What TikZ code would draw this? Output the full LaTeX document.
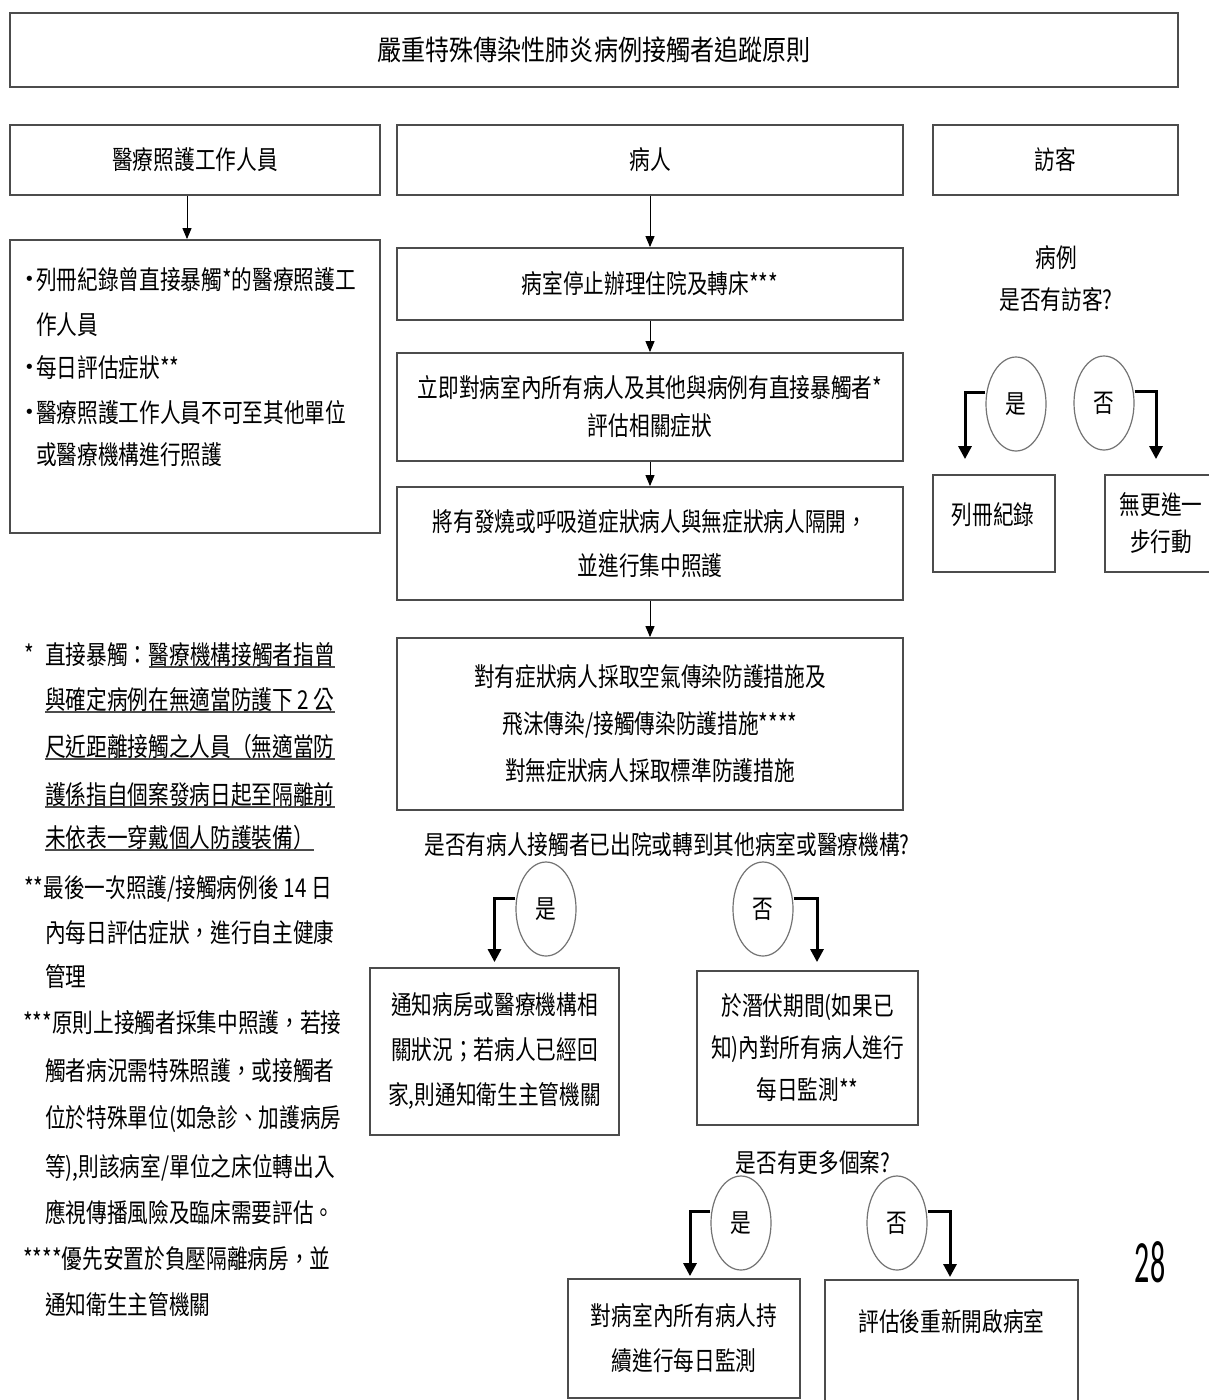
\documentclass[tikz,border=0pt]{standalone}
\usepackage{fontspec}
\usepackage{graphicx}
\setmainfont[FakeStretch=0.795]{Noto Sans CJK TC}
\newfontfamily\titlefont[FakeStretch=0.86]{Noto Sans CJK TC}
\newfontfamily\numfont[FakeStretch=0.5]{Carlito}
\newfontfamily\dotfont{DejaVu Sans}
\usetikzlibrary{arrows.meta,shapes.geometric}
\newcommand\fz[1]{\fontsize{26}{#1}\selectfont}
\newcommand\bul{\makebox[12pt][l]{\raisebox{4pt}{\dotfont\fontsize{18}{18}\selectfont •}}}
\tikzset{
  box/.style={draw=black!70, line width=1.8pt, rectangle, inner sep=0pt, align=center, font=\fz{44}},
  txt/.style={inner sep=0pt, font=\fz{44}, text height=23pt, text depth=4pt},
  mtxt/.style={inner sep=0pt, align=center},
  oval/.style={ellipse, draw=black!55, line width=1.2pt, minimum width=60pt, minimum height=94pt, inner sep=0pt, font=\fz{30}},
  thinarr/.style={draw=black, line width=1pt, -{Triangle[width=9pt,length=11pt]}},
  conn/.style={draw=black, line width=3pt, -{Triangle[width=13pt,length=13pt]}},
  uline/.style={draw=black!70, line width=1.8pt},
}
\begin{document}
\begin{tikzpicture}[x=1pt,y=-1pt]
\fill[white] (0,0) rectangle (1208,1400);
\useasboundingbox (0,0) rectangle (1208,1400);

% title and headers
\node[box, minimum width=1168pt, minimum height=74pt, font=\titlefont\fontsize{28}{28}\selectfont] (title) at (594,50) {嚴重特殊傳染性肺炎病例接觸者追蹤原則};
\node[box, minimum width=370pt, minimum height=70pt] (hstaff) at (195,160) {醫療照護工作人員};
\node[box, minimum width=506pt, minimum height=70pt] (hpat) at (650,160) {病人};
\node[box, minimum width=245pt, minimum height=70pt] (hvis) at (1055.5,160) {訪客};

% staff column
\node[box, minimum width=370pt, minimum height=293pt] (lbox) at (195,386.5) {};
\node[txt, anchor=west] (l1) at (24,280) {\bul 列冊紀錄曾直接暴觸*的醫療照護工};
\node[txt, anchor=west] (l2) at (36,325) {作人員};
\node[txt, anchor=west] (l3) at (24,368) {\bul 每日評估症狀**};
\node[txt, anchor=west] (l4) at (24,413) {\bul 醫療照護工作人員不可至其他單位};
\node[txt, anchor=west] (l5) at (36,455) {或醫療機構進行照護};
\draw[thinarr] ([xshift=-8pt]hstaff.south) -- ([xshift=-8pt]lbox.north);

% patient column
\node[box, minimum width=506pt, minimum height=72pt] (b1) at (650,284) {病室停止辦理住院及轉床***};
\node[box, minimum width=506pt, minimum height=108pt, font=\fz{38}] (b2) at (650,407) {立即對病室內所有病人及其他與病例有直接暴觸者*\\評估相關症狀};
\node[box, minimum width=506pt, minimum height=113pt, font=\fz{44}] (b3) at (650,543.5) {將有發燒或呼吸道症狀病人與無症狀病人隔開，\\並進行集中照護};
\node[box, minimum width=506pt, minimum height=172pt, font=\fz{47}] (b4) at (650,724) {對有症狀病人採取空氣傳染防護措施及\\飛沫傳染/接觸傳染防護措施****\\對無症狀病人採取標準防護措施};
\draw[thinarr] (hpat.south) -- (b1.north);
\draw[thinarr] (b1.south) -- (b2.north);
\draw[thinarr] (b2.south) -- (b3.north);
\draw[thinarr] (b3.south) -- (b4.north);

\node[txt] (q1) at (667,845) {是否有病人接觸者已出院或轉到其他病室或醫療機構?};
\node[oval] (q1y) at (546,909) {是};
\node[oval] (q1n) at (763,909) {否};
\node[box, minimum width=249pt, minimum height=167pt, font=\fz{45}] (y1) at (494.5,1051.5) {通知病房或醫療機構相\\關狀況；若病人已經回\\家,則通知衛生主管機關};
\node[box, minimum width=221pt, minimum height=154pt, font=\fz{42}] (n1) at (807.5,1048) {於潛伏期間(如果已\\知)內對所有病人進行\\每日監測**};
\draw[conn, shorten >=5pt] ([yshift=11pt]q1y.west) -| (y1.north);
\draw[conn, shorten >=8pt] ([yshift=11pt]q1n.east) -| ([xshift=9.5pt]n1.north);

\node[txt] (q2) at (813,1163) {是否有更多個案?};
\node[oval] (q2y) at (741,1223) {是};
\node[oval] (q2n) at (897,1223) {否};
\node[box, minimum width=232pt, minimum height=119pt, font=\fz{45}] (y2) at (684,1338.5) {對病室內所有病人持\\續進行每日監測};
\node[box, minimum width=253pt, minimum height=150pt, anchor=north] (n2) at (951.5,1279) {};
\node[txt] (n2t) at (951.5,1322) {評估後重新開啟病室};
\draw[conn, shorten >=2pt] ([yshift=12pt]q2y.west) -| ([xshift=6pt]y2.north);
\draw[conn, shorten >=2pt] ([yshift=12pt]q2n.east) -| ([xshift=-1.5pt]n2.north);

% visitor column
\node[mtxt, font=\fz{42}] (vq) at (1056,279) {病例\\是否有訪客?};
\node[oval] (vy) at (1016,404) {是};
\node[oval] (vn) at (1104,403) {否};
\node[box, minimum width=122pt, minimum height=97pt] (v1) at (994,523.5) {};
\node[txt] (v1t) at (993,515) {列冊紀錄};
\node[box, minimum width=112pt, minimum height=97pt, font=\fz{37}] (v2) at (1161,523.5) {無更進一\\步行動};
\draw[conn, shorten >=15pt] ([yshift=12pt]vy.west) -| ([xshift=-29pt]v1.north);
\draw[conn, shorten >=15pt] ([yshift=12pt]vn.east) -| ([xshift=-5pt]v2.north);

% footnotes
\node[txt, anchor=west] (f0) at (24,655) {*};
\node[txt, anchor=west] (f1a) at (45,655) {直接暴觸：};
\node[txt, anchor=west] (f1b) at (f1a.east) {醫療機構接觸者指曾};
\node[txt, anchor=west] (f2) at (45,700) {與確定病例在無適當防護下 2 公};
\node[txt, anchor=west] (f3) at (45,747) {尺近距離接觸之人員（無適當防};
\node[txt, anchor=west] (f4) at (45,795) {護係指自個案發病日起至隔離前};
\node[txt, anchor=west] (f5) at (45,838) {未依表一穿戴個人防護裝備）};
\foreach \n in {f1b,f2,f3,f4,f5} \draw[uline] ([yshift=-12pt]\n.west) -- ([yshift=-12pt]\n.east);

\node[txt, anchor=west] (g1) at (24,888) {**最後一次照護/接觸病例後 14 日};
\node[txt, anchor=west] (g2) at (45,933) {內每日評估症狀，進行自主健康};
\node[txt, anchor=west] (g3) at (45,977) {管理};
\node[txt, anchor=west] (h1) at (23,1023) {***原則上接觸者採集中照護，若接};
\node[txt, anchor=west] (h2) at (45,1071) {觸者病況需特殊照護，或接觸者};
\node[txt, anchor=west] (h3) at (45,1118) {位於特殊單位(如急診、加護病房};
\node[txt, anchor=west] (h4) at (45,1167) {等),則該病室/單位之床位轉出入};
\node[txt, anchor=west] (h5) at (45,1213) {應視傳播風險及臨床需要評估。};
\node[txt, anchor=west] (k1) at (23,1259) {****優先安置於負壓隔離病房，並};
\node[txt, anchor=west] (k2) at (45,1305) {通知衛生主管機關};

\node[inner sep=0pt, font=\numfont\fontsize{60}{60}\selectfont] (pg) at (1150,1262) {28};
\end{tikzpicture}
\end{document}
